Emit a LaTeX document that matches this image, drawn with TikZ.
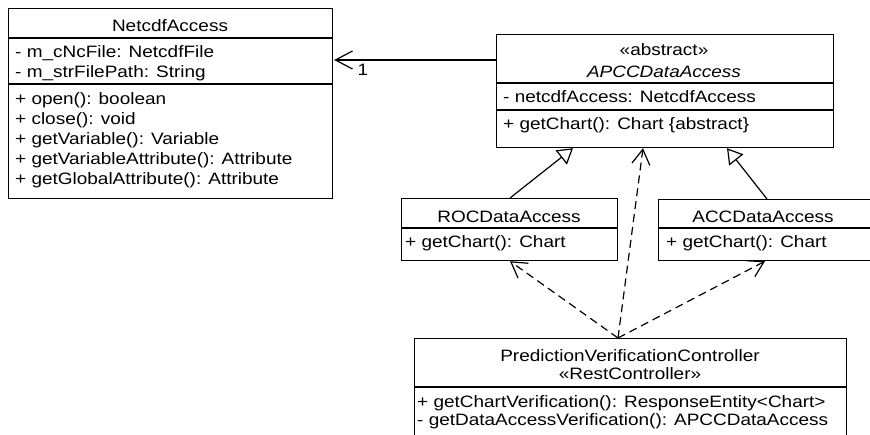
\documentclass[tikz,border=0pt]{standalone}
\usepackage{fontspec}
\setmainfont{Liberation Sans}[FakeStretch=1.15]
\usetikzlibrary{arrows.meta,calc}
\begin{document}
\begin{tikzpicture}[x=1pt,y=-1pt,
  box/.style={draw, line width=1.2pt, rectangle, inner sep=0pt, anchor=north west},
  txt/.style={inner sep=0pt, anchor=base west, font=\fontsize{16.5}{18}\selectfont},
  ctxt/.style={inner sep=0pt, anchor=base, font=\fontsize{16.5}{18}\selectfont},
  sep/.style={line width=1.2pt},
  assoc/.style={line width=1.2pt, -{Straight Barb[length=17pt,width=18pt]}},
  gen/.style={line width=1.2pt, -{Triangle[open,length=15pt,width=18pt]}},
  dep/.style={line width=1.2pt, dash pattern=on 8pt off 5pt, -{Straight Barb[length=15pt,width=18pt]}}
]
\useasboundingbox (0,0) rectangle (870,434);
% boxes
\node[box, minimum width=324pt, minimum height=190pt] (netcdf) at (8,8) {};
\node[box, minimum width=337pt, minimum height=113pt] (apcc) at (496,34) {};
\node[box, minimum width=216pt, minimum height=62pt] (roc) at (401,198) {};
\node[box, minimum width=214pt, minimum height=61pt] (acc) at (658,199) {};
\node[box, minimum width=432pt, minimum height=100pt] (ctrl) at (414,338) {};
% separators
\draw[sep] ($(netcdf.north west)+(0,30)$) -- ($(netcdf.north east)+(0,30)$);
\draw[sep] ($(netcdf.north west)+(0,76)$) -- ($(netcdf.north east)+(0,76)$);
\draw[sep] ($(apcc.north west)+(0,49)$) -- ($(apcc.north east)+(0,49)$);
\draw[sep] ($(apcc.north west)+(0,76)$) -- ($(apcc.north east)+(0,76)$);
\draw[sep] ($(roc.north west)+(0,30)$) -- ($(roc.north east)+(0,30)$);
\draw[sep] ($(acc.north west)+(0,29)$) -- ($(acc.north east)+(0,29)$);
\draw[sep] ($(ctrl.north west)+(0,49)$) -- ($(ctrl.north east)+(0,49)$);
% NetcdfAccess texts
\node[ctxt] (n0) at (170,31) {NetcdfAccess};
\node[txt] (n1) at (15,57) {- m\_cNcFile: NetcdfFile};
\node[txt] (n2) at (15,77) {- m\_strFilePath: String};
\node[txt] (n3) at (15,104) {+ open(): boolean};
\node[txt] (n4) at (15,124) {+ close(): void};
\node[txt] (n5) at (15,144) {+ getVariable(): Variable};
\node[txt] (n6) at (15,164) {+ getVariableAttribute(): Attribute};
\node[txt] (n7) at (15,184) {+ getGlobalAttribute(): Attribute};
% APCCDataAccess texts
\node[ctxt] (a0) at (664,55) {«abstract»};
\node[ctxt] (a1) at (664,77) {\itshape APCCDataAccess};
\node[txt] (a2) at (503,102) {- netcdfAccess: NetcdfAccess};
\node[txt] (a3) at (503,129) {+ getChart(): Chart \{abstract\}};
% ROC
\node[ctxt] (r0) at (509,222) {ROCDataAccess};
\node[txt] (r1) at (405,247) {+ getChart(): Chart};
% ACC
\node[ctxt] (c0) at (763,222) {ACCDataAccess};
\node[txt] (c1) at (666,247) {+ getChart(): Chart};
% Controller
\node[ctxt] (p0) at (630,361) {PredictionVerificationController};
\node[ctxt] (p1) at (630,379) {«RestController»};
\node[txt] (p2) at (417,407) {+ getChartVerification(): ResponseEntity<Chart>};
\node[txt] (p3) at (417,425) {- getDataAccessVerification(): APCCDataAccess};
% connectors
\draw[assoc] ($(apcc.north west)+(0,26)$) -- ($(netcdf.north east)+(1,52)$);
\node[ctxt] (one) at (363,75) {1};
\draw[gen] ($(roc.north west)+(109,0)$) -- ($(apcc.south west)+(77,0)$);
\draw[gen] ($(acc.north west)+(109,0)$) -- ($(apcc.south west)+(231,0)$);
\coordinate (cp) at ($(ctrl.north west)+(204,0)$);
\draw[dep] (cp) -- ($(apcc.south west)+(147,0)$);
\draw[dep] (cp) -- ($(roc.south west)+(109,0)$);
\draw[dep] (cp) -- ($(acc.south west)+(107,0)$);
\end{tikzpicture}
\end{document}
